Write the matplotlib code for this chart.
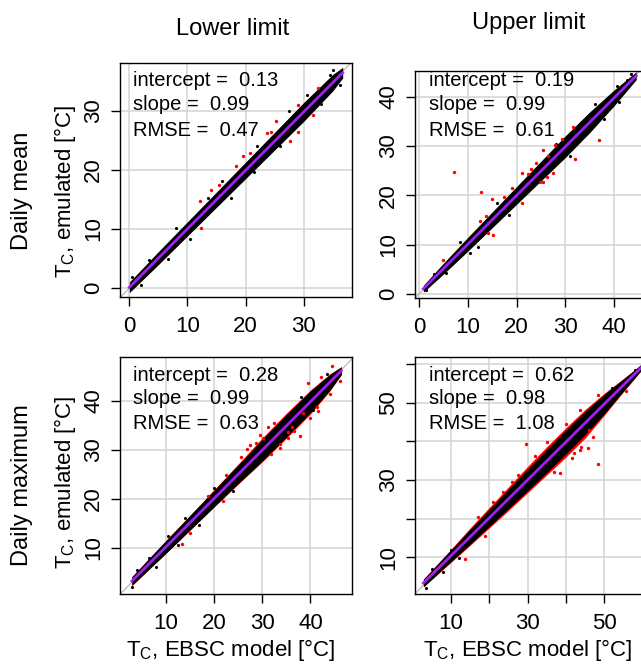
import numpy as np
import matplotlib
matplotlib.use('Agg')
import matplotlib.pyplot as plt

plt.rcParams['font.family'] = ['Liberation Sans', 'DejaVu Sans']
plt.rcParams['mathtext.fontset'] = 'custom'
plt.rcParams['mathtext.rm'] = 'Liberation Sans'
plt.rcParams['mathtext.default'] = 'regular'

W, H = 641, 664

# fit statistics printed in each panel (TL, TR, BL, BR)
intercepts = [0.13, 0.19, 0.28, 0.62]
slopes = [0.99, 0.99, 0.99, 0.98]
rmses = [0.47, 0.61, 0.63, 1.08]

# dense point cloud: x knots and half widths of the black core / red fringe (degC)
tl_x = [0, 5, 10, 15, 20, 25, 30, 35, 36.7]
tl_black = [0.9, 1.1, 1.2, 1.3, 1.4, 1.5, 1.6, 1.4, 0.9]

tr_x = [0.9, 5, 10, 15, 20, 25, 30, 35, 40, 44.5]
tr_black = [0.7, 1.1, 1.4, 1.6, 1.8, 2.0, 2.2, 2.1, 1.6, 0.8]

bl_x = [3, 10, 15, 20, 25, 30, 35, 40, 44, 46.4]
bl_black = [0.9, 1.3, 1.5, 1.7, 1.9, 2.2, 2.3, 2.2, 1.6, 0.8]
bl_red_up = [0.9, 1.3, 1.5, 1.8, 2.1, 2.5, 2.6, 2.4, 1.7, 0.8]
bl_red_lo = [0.9, 1.3, 1.5, 1.7, 2.0, 2.4, 2.5, 2.5, 1.8, 0.8]

br_x = [2.8, 10, 15, 20, 25, 30, 35, 40, 45, 50, 55, 59.5]
br_black = [1.0, 1.5, 1.9, 2.2, 2.5, 2.8, 3.0, 3.1, 3.0, 2.5, 1.6, 0.8]
br_red_up = [1.0, 1.7, 2.3, 2.7, 3.1, 3.5, 3.7, 3.7, 3.5, 2.8, 1.7, 0.8]
br_red_lo = [1.0, 1.7, 2.2, 2.6, 3.0, 3.3, 3.6, 3.9, 3.9, 2.9, 1.7, 0.8]

# single points outside the core (EBSC, emulated)
tl_red = [(32.5, 33.9), (29.0, 31.0), (31.6, 29.3), (25.2, 28.3), (24.4, 26.5), (23.6, 26.2),
          (29.0, 26.5), (27.6, 24.9), (20.7, 22.8), (19.5, 22.4), (18.3, 20.7), (15.4, 17.5),
          (14.0, 16.6), (12.4, 10.2), (12.1, 14.8)]
tl_dots = [(3.4, 4.7), (6.6, 5.0), (8.0, 10.2), (10.5, 8.4), (16.0, 18.2), (17.5, 15.3),
           (22.0, 24.0), (26.0, 24.0), (27.5, 30.0), (33.0, 31.2), (35.0, 36.9), (36.2, 34.4),
           (34.5, 36.0), (30.5, 32.6), (2.0, 0.6), (0.5, 1.9), (21.5, 19.6), (13.5, 15.2)]

tr_red = [(7.2, 24.8), (12.6, 20.75), (14.9, 19.3), (13.7, 15.9), (12.5, 14.7), (15.2, 12.0),
          (14.2, 12.3), (5.0, 6.9), (21.0, 18.4), (17.4, 19.7), (21.0, 24.5), (22.4, 24.3),
          (24.0, 26.5), (25.5, 29.2), (24.8, 22.8), (25.5, 22.8), (27.4, 24.5), (26.2, 23.7),
          (29.2, 31.4), (31.5, 33.8), (32.0, 27.4), (36.9, 31.2), (26.4, 28.0), (19.0, 21.5),
          (27.8, 30.2), (23.0, 25.4)]
tr_dots = [(1.5, 0.9), (3.0, 4.0), (5.5, 4.2), (8.5, 10.5), (10.5, 8.25), (12.0, 9.5),
           (16.0, 18.5), (18.5, 16.0), (28.0, 30.5), (31.0, 28.0), (36.0, 38.5), (38.0, 35.5),
           (40.5, 42.2), (42.6, 43.4), (41.0, 39.0), (43.5, 44.5)]

bl_red = [(44.5, 47.1), (46.2, 44.1), (42.1, 45.0), (44.0, 41.4), (39.5, 43.6), (41.6, 38.0),
          (39.9, 36.5), (38.5, 37.5), (36.2, 34.8), (35.3, 33.7), (33.7, 31.2), (35.4, 32.4),
          (31.2, 34.8), (30.2, 32.4), (28.8, 31.4), (26.8, 30.3), (25.7, 28.5), (22.6, 25.0),
          (18.8, 20.7), (21.9, 19.7), (15.0, 13.0), (13.3, 10.9), (33.7, 30.5), (37.8, 32.9),
          (36.6, 33.9), (31.9, 29.2), (41.3, 38.7), (27.5, 31.0), (32.5, 35.5), (29.5, 33.0)]
bl_dots = [(3.0, 2.0), (4.0, 5.5), (6.5, 8.0), (8.0, 6.2), (10.5, 12.5), (12.5, 10.6),
           (14.0, 16.2), (17.0, 14.8), (20.0, 22.3), (24.0, 21.6), (38.0, 40.8), (40.5, 38.2),
           (42.5, 43.9), (44.7, 43.7), (43.5, 45.5)]

br_red = [(29.6, 39.2), (48.5, 34.1), (55.7, 53.0), (48.5, 51.9), (43.7, 48.1), (45.8, 38.2),
          (43.7, 37.7), (41.5, 35.6), (38.5, 31.7), (13.7, 9.5), (21.0, 24.3), (25.8, 29.4),
          (47.0, 41.0), (46.0, 43.0), (17.0, 20.4), (35.0, 39.8), (32.0, 36.3), (27.5, 31.2),
          (40.0, 44.5), (44.0, 38.5), (42.0, 37.0), (37.0, 32.0), (23.5, 27.0), (19.0, 15.5)]
br_dots = [(3.5, 2.2), (5.0, 7.0), (8.0, 6.2), (10.0, 11.8), (12.0, 9.8), (52.0, 53.8),
           (54.1, 54.5), (56.5, 56.0), (58.0, 58.5), (50.5, 51.0)]

# axes boxes in pixels: left, right, top, bottom
boxes = [(120, 352, 63, 297), (415, 645, 71, 298), (120, 352, 357, 594), (415, 645, 357, 594)]
xlims = [(-1.6, 38.3), (-0.82, 46.3), (0.54, 48.6), (0.6, 60.65)]
ylims = [(-1.5, 38.1), (-0.81, 45.2), (0.61, 49.0), (0.52, 61.8)]
ticks = [[0, 10, 20, 30], [0, 10, 20, 30, 40], [10, 20, 30, 40], [10, 20, 30, 40, 50, 60]]
ticklabels = [['0', '10', '20', '30'], ['0', '10', '20', '30', '40'],
              ['10', '20', '30', '40'], ['10', '', '30', '', '50', '']]

clouds = [
    (tl_x, tl_black, None, None, tl_red, tl_dots),
    (tr_x, tr_black, None, None, tr_red, tr_dots),
    (bl_x, bl_black, bl_red_up, bl_red_lo, bl_red, bl_dots),
    (br_x, br_black, br_red_up, br_red_lo, br_red, br_dots),
]

fig = plt.figure(figsize=(W / 100, H / 100), dpi=100)


def fx(p):
    return p / W


def fy(p):
    return 1 - p / H


for i, (l, r, t, b) in enumerate(boxes):
    ax = fig.add_axes([fx(l), fy(b), (r - l) / W, (b - t) / H])
    xk, blk, rup, rlo, red, dots = clouds[i]
    xk = np.array(xk)
    fit = intercepts[i] + slopes[i] * xk

    ax.axline((0, 0), slope=1, color='#BEBEBE', lw=1.0, zorder=1)
    if rup is not None:
        ax.fill_between(xk, fit - np.array(rlo), fit + np.array(rup), color='red', lw=0, zorder=2)
    ax.fill_between(xk, fit - np.array(blk), fit + np.array(blk), color='black', lw=0, zorder=3)
    d = np.array(dots)
    ax.scatter(d[:, 0], d[:, 1], s=5, color='black', lw=0, zorder=4)
    rd = np.array(red)
    ax.scatter(rd[:, 0], rd[:, 1], s=6, color='red', lw=0, zorder=4)
    ax.plot([xk[0], xk[-1]], [fit[0], fit[-1]], color='#A020F0', lw=2.0, zorder=5)

    ax.set_xlim(xlims[i])
    ax.set_ylim(ylims[i])
    ax.set_xticks(ticks[i], ticklabels[i])
    ax.set_yticks(ticks[i], ticklabels[i])
    ax.grid(True, color='#D3D3D3', lw=1.1)
    ax.set_axisbelow(True)
    for s in ax.spines.values():
        s.set_linewidth(1.0)
    ax.tick_params(axis='both', length=6.5, width=1.0, labelsize=16, color='black')
    ax.tick_params(axis='x', pad=7)
    ax.tick_params(axis='y', pad=5, labelrotation=90)
    plt.setp(ax.get_yticklabels(), va='center')

    # fit summary
    tx = 133 if i % 2 == 0 else 429
    base = [86, 110, 135.5] if i < 2 else [380.7, 404.3, 429.3]
    lines = ['intercept =  %.2f' % intercepts[i], 'slope =  %.2f' % slopes[i],
             'RMSE =  %.2f' % rmses[i]]
    for txt, yb in zip(lines, base):
        fig.text(fx(tx), fy(yb), txt, fontsize=14.5, ha='left', va='baseline')

fig.text(fx(233), fy(29), 'Lower limit', fontsize=17, ha='center', va='center')
fig.text(fx(529), fy(23), 'Upper limit', fontsize=17, ha='center', va='center')
fig.text(fx(22), fy(191), 'Daily mean', fontsize=17, ha='center', va='center', rotation=90)
fig.text(fx(22), fy(485), 'Daily maximum', fontsize=17, ha='center', va='center', rotation=90)
fig.text(fx(65), fy(191), r'$T_C$, emulated [°C]', fontsize=16, ha='center', va='center', rotation=90)
fig.text(fx(65), fy(482), r'$T_C$, emulated [°C]', fontsize=16, ha='center', va='center', rotation=90)
fig.text(fx(231), fy(650), r'$T_C$, EBSC model [°C]', fontsize=16, ha='center', va='center')
fig.text(fx(528), fy(650), r'$T_C$, EBSC model [°C]', fontsize=16, ha='center', va='center')

fig.savefig('out.png', dpi=100)
